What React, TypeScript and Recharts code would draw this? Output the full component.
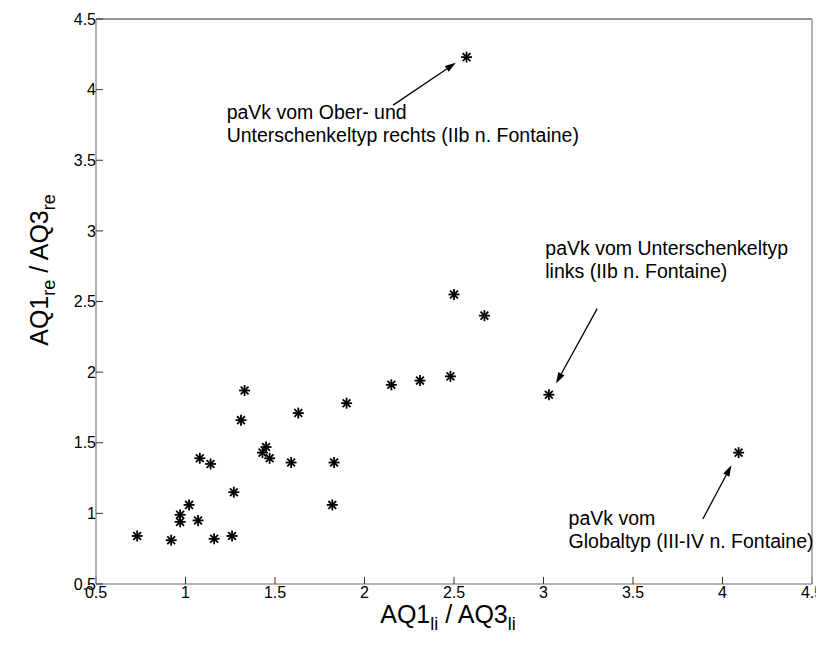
import React from "react";
import { ScatterChart, Scatter, XAxis, YAxis, Label, ReferenceLine, ReferenceDot } from "recharts";

// AQ1/AQ3 ratios, left (x) vs right (y)
const ratioLi = [
  0.73, 0.92, 0.97, 0.97, 1.02, 1.07, 1.08, 1.14, 1.16, 1.26, 1.27, 1.31, 1.33, 1.43, 1.45,
  1.47, 1.59, 1.63, 1.82, 1.83, 1.9, 2.15, 2.31, 2.48, 3.03, 4.09, 2.57, 2.5, 2.67,
];
const ratioRe = [
  0.84, 0.81, 0.99, 0.94, 1.06, 0.95, 1.39, 1.35, 0.82, 0.84, 1.15, 1.66, 1.87, 1.43, 1.47,
  1.39, 1.36, 1.71, 1.06, 1.36, 1.78, 1.91, 1.94, 1.97, 1.84, 1.43, 4.23, 2.55, 2.4,
];

const xTicks = [0.5, 1, 1.5, 2, 2.5, 3, 3.5, 4, 4.5];
const yTicks = [0.5, 1, 1.5, 2, 2.5, 3, 3.5, 4, 4.5];

// annotations (data units)
const noteX = [1.23, 3.01, 3.14];
const noteY = [3.79, 2.83, 0.92];
const noteText = [
  ["paVk vom Ober- und", "Unterschenkeltyp rechts (IIb n. Fontaine)"],
  ["paVk vom Unterschenkeltyp", "links (IIb n. Fontaine)"],
  ["paVk vom", "Globaltyp (III-IV n. Fontaine)"],
];
const arrowFromX = [2.16, 3.3, 3.89];
const arrowFromY = [3.89, 2.45, 0.96];
const arrowToX = [2.51, 3.07, 4.05];
const arrowToY = [4.19, 1.92, 1.34];

const points = ratioLi.map((x, i) => ({ x, y: ratioRe[i] }));

const font = "'Liberation Sans', Arial, sans-serif";

const Asterisk = (props: any) => {
  const { cx, cy } = props;
  const r = 5.5;
  const d = 3.9;
  return (
    <g stroke="#000" strokeWidth={1.8}>
      <line x1={cx - r} y1={cy} x2={cx + r} y2={cy} />
      <line x1={cx} y1={cy - r} x2={cx} y2={cy + r} />
      <line x1={cx - d} y1={cy - d} x2={cx + d} y2={cy + d} />
      <line x1={cx - d} y1={cy + d} x2={cx + d} y2={cy - d} />
    </g>
  );
};

const Arrow = (props: any) => {
  const { x1, y1, x2, y2 } = props;
  const a = Math.atan2(y2 - y1, x2 - x1);
  const len = 11;
  const w = 3.5;
  const bx = x2 - len * Math.cos(a);
  const by = y2 - len * Math.sin(a);
  const px = -Math.sin(a) * w;
  const py = Math.cos(a) * w;
  return (
    <g>
      <line x1={x1} y1={y1} x2={bx} y2={by} stroke="#000" strokeWidth={1.3} />
      <polygon points={`${x2},${y2} ${bx + px},${by + py} ${bx - px},${by - py}`} fill="#000" />
    </g>
  );
};

const makeNote = (lines: string[]) => (p: any) => (
  <text x={p.cx} y={p.cy} fontSize={19.5} fill="#000" fontFamily={font}>
    {lines.map((l, i) => (
      <tspan key={i} x={p.cx} dy={i === 0 ? 0 : 23}>
        {l}
      </tspan>
    ))}
  </text>
);

const XTitle = (props: any) => {
  const vb = props.viewBox;
  const cx = vb.x + vb.width / 2 - 6;
  const y = vb.y + 39;
  return (
    <text x={cx} y={y} textAnchor="middle" fontSize={25} fill="#000" fontFamily={font}>
      AQ1<tspan fontSize={18} dy={7}>li</tspan>
      <tspan dy={-7}> / AQ3</tspan>
      <tspan fontSize={18} dy={7}>li</tspan>
    </text>
  );
};

const YTitle = () => {
  const bx = 40;
  const cy = 262;
  return (
    <text
      x={bx}
      y={cy}
      textAnchor="middle"
      transform={`rotate(-90 ${bx} ${cy})`}
      fontSize={25}
      fill="#000"
      fontFamily={font}
    >
      AQ1<tspan fontSize={18} dy={7}>re</tspan>
      <tspan dy={-7}> / AQ3</tspan>
      <tspan fontSize={18} dy={7}>re</tspan>
    </text>
  );
};

export default function App() {
  return (
    <ScatterChart
      width={816}
      height={635}
      margin={{ top: 11, right: 12, bottom: 0, left: 0 }}
      style={{ fontFamily: font, background: "#fff" }}
    >
      <XAxis
        type="number"
        dataKey="x"
        domain={[0.5, 4.5]}
        ticks={xTicks}
        interval={0}
        allowDataOverflow
        height={59}
        tickSize={-7}
        tickMargin={10}
        axisLine={{ stroke: "#999", strokeWidth: 1.5 }}
        tickLine={{ stroke: "#333" }}
        tick={{ fontSize: 16, fill: "#000" }}
      >
        <Label content={XTitle} />
      </XAxis>
      <XAxis
        xAxisId="top"
        orientation="top"
        type="number"
        domain={[0.5, 4.5]}
        ticks={xTicks}
        interval={0}
        height={1}
        mirror
        tick={false}
        tickSize={7}
        axisLine={{ stroke: "#333" }}
        tickLine={{ stroke: "#333" }}
      />
      <YAxis
        type="number"
        dataKey="y"
        domain={[0.5, 4.5]}
        ticks={yTicks}
        interval={0}
        allowDataOverflow
        width={88}
        tickSize={-7}
        tickMargin={7}
        axisLine={{ stroke: "#999", strokeWidth: 1.5 }}
        tickLine={{ stroke: "#333" }}
        tick={{ fontSize: 16, fill: "#000" }}
      >
        <Label content={YTitle} />
      </YAxis>
      <YAxis
        yAxisId="right"
        orientation="right"
        type="number"
        domain={[0.5, 4.5]}
        ticks={yTicks}
        interval={0}
        width={1}
        mirror
        tick={false}
        tickSize={7}
        axisLine={{ stroke: "#999", strokeWidth: 1.5 }}
        tickLine={{ stroke: "#333" }}
      />
      {arrowFromX.map((fx, i) => (
        <ReferenceLine
          key={`arrow-${i}`}
          segment={[
            { x: fx, y: arrowFromY[i] },
            { x: arrowToX[i], y: arrowToY[i] },
          ]}
          ifOverflow="visible"
          shape={Arrow}
        />
      ))}
      {noteX.map((nx, i) => (
        <ReferenceDot
          key={`note-${i}`}
          x={nx}
          y={noteY[i]}
          r={0}
          ifOverflow="visible"
          shape={makeNote(noteText[i])}
        />
      ))}
      <Scatter data={points} shape={Asterisk} isAnimationActive={false} />
    </ScatterChart>
  );
}
